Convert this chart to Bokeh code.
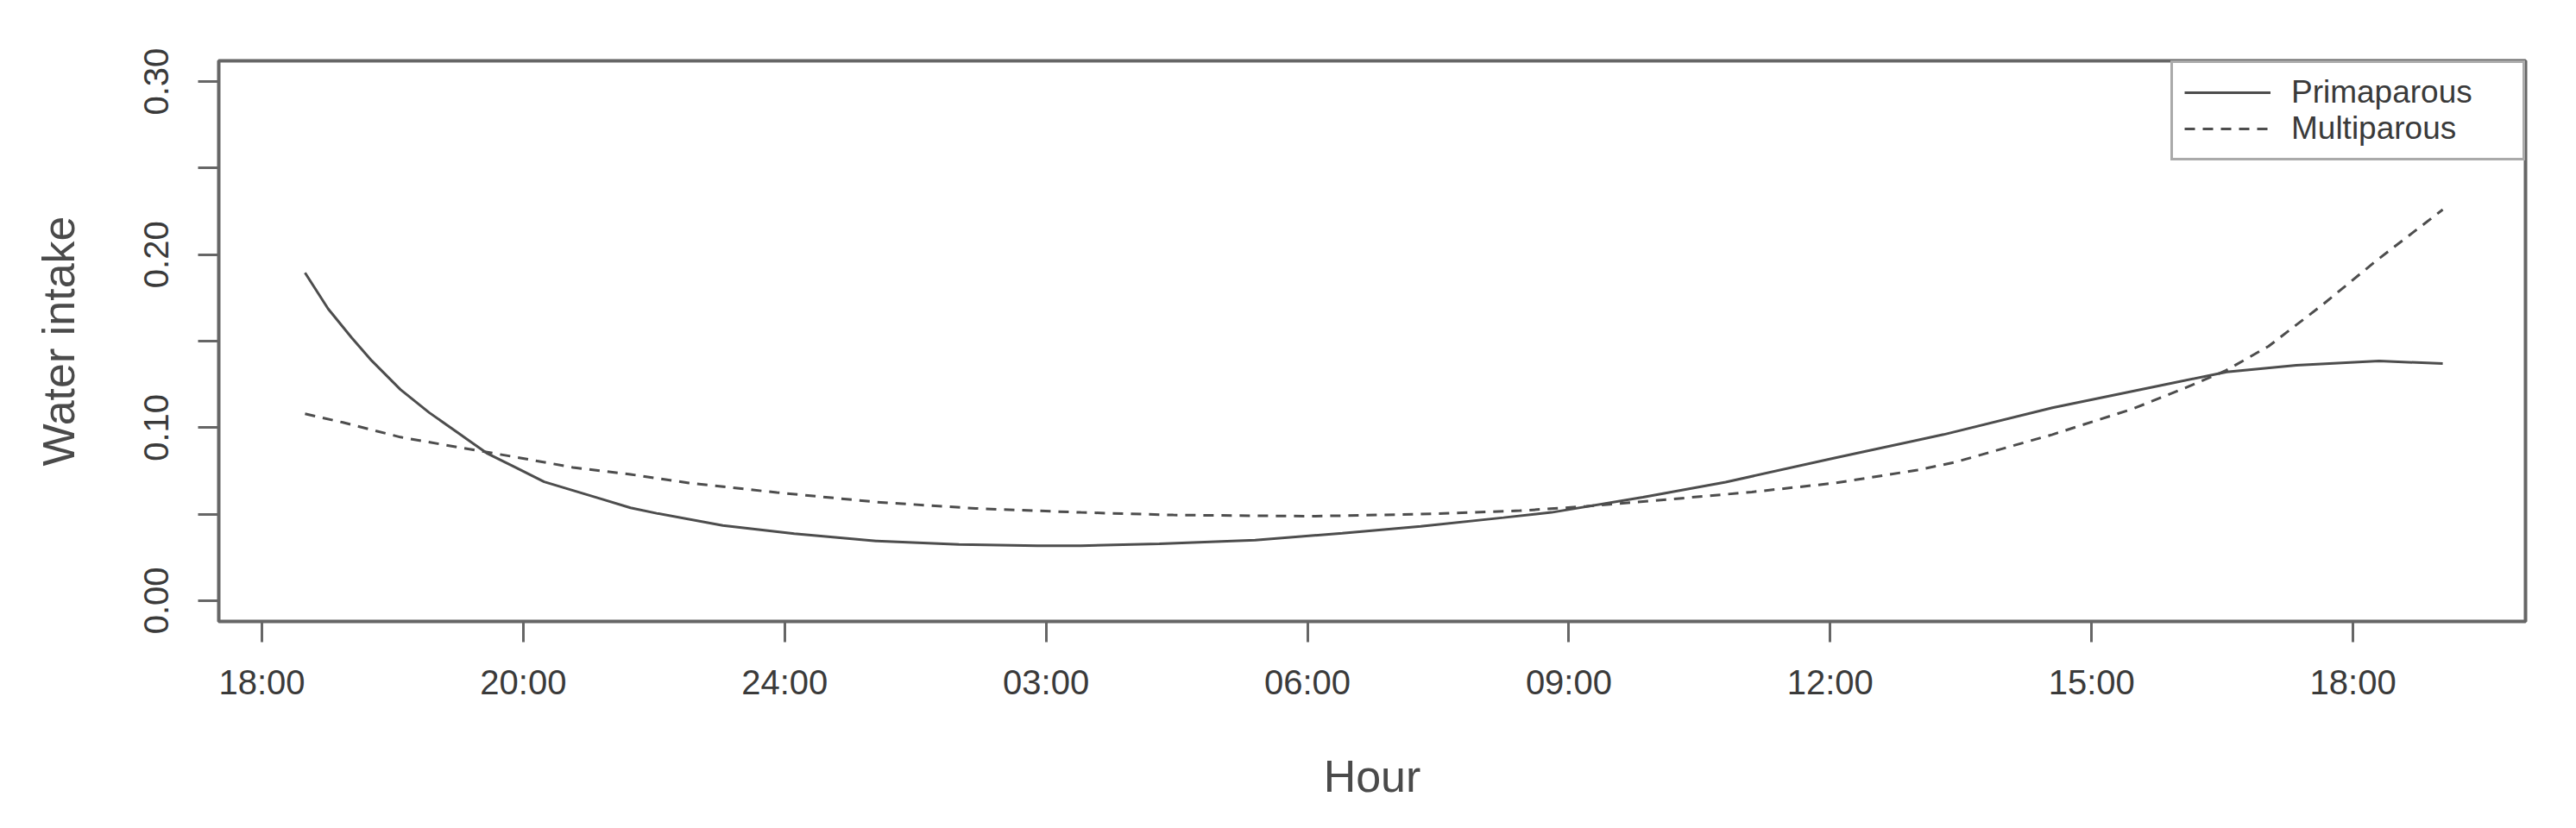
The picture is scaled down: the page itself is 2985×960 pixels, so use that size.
from bokeh.plotting import figure
from bokeh.models import FixedTicker, Range1d, Legend, LegendItem
from bokeh.embed import file_html
from bokeh.resources import INLINE

# ---- data (hours after the first 18:00 tick) ----
prim_hours = [0.495, 0.76, 1.03, 1.26, 1.59, 1.92, 2.25, 2.58, 2.91, 3.24, 3.57, 3.9,
              4.23, 4.53, 5.29, 6.11, 7.05, 8.0, 8.9, 9.4, 10.3, 11.4, 12.4, 13.3,
              14.25, 14.8, 15.85, 16.8, 18.05, 19.3, 20.55, 21.8, 22.55, 23.35, 24.3, 25.03]
prim_vals = [0.1895, 0.1687, 0.152, 0.1387, 0.122, 0.1087, 0.097, 0.0853, 0.077, 0.0687,
             0.0637, 0.0587, 0.0537, 0.0505, 0.0435, 0.0387, 0.0345, 0.0325, 0.0318,
             0.0318, 0.0328, 0.035, 0.039, 0.043, 0.048, 0.051, 0.0598, 0.0685, 0.0825,
             0.096, 0.1115, 0.1245, 0.1322, 0.136, 0.1385, 0.137]

multi_hours = [0.495, 0.93, 1.59, 2.25, 2.91, 3.57, 4.23, 4.9, 5.91, 7.05, 8.19, 9.4,
               10.46, 12.04, 13.3, 14.44, 15.2, 16.14, 17.1, 18.06, 19.0, 19.43, 20.55,
               21.48, 22.1, 22.54, 23.03, 23.65, 24.28, 25.03]
multi_vals = [0.108, 0.103, 0.0945, 0.0887, 0.083, 0.077, 0.073, 0.068, 0.0625, 0.057,
              0.0533, 0.051, 0.0495, 0.0488, 0.0500, 0.052, 0.0545, 0.0585, 0.0628,
              0.068, 0.0755, 0.080, 0.096, 0.111, 0.1235, 0.133, 0.147, 0.171, 0.197, 0.226]

x_ticks = [0, 3, 6, 9, 12, 15, 18, 21, 24]
x_tick_labels = ["18:00", "20:00", "24:00", "03:00", "06:00", "09:00", "12:00", "15:00", "18:00"]
y_ticks = [0.0, 0.1, 0.2, 0.3]
y_minor_ticks = [0.05, 0.15, 0.25]
y_tick_labels = ["0.00", "0.10", "0.20", "0.30"]

FONT = "Liberation Sans"
LINE_COLOR = "#4d4d4d"
AXIS_COLOR = "#666666"
TEXT_COLOR = "#3a3a3a"

p = figure(frame_width=2673, frame_height=650,
           x_range=Range1d(-0.495, 25.98), y_range=Range1d(-0.012, 0.312),
           output_backend="svg", toolbar_location=None,
           min_border_left=253, min_border_right=43, min_border_top=70, min_border_bottom=224,
           background_fill_color="white", border_fill_color="white")

p.grid.visible = False
p.outline_line_color = AXIS_COLOR
p.outline_line_width = 4

r1 = p.line(prim_hours, prim_vals, line_color=LINE_COLOR, line_width=3)
r2 = p.line(multi_hours, multi_vals, line_color=LINE_COLOR, line_width=3, line_dash="12 9")

for ax in (p.xaxis[0], p.yaxis[0]):
    ax.axis_line_color = None
    ax.major_tick_out = 24
    ax.major_tick_in = 0
    ax.major_tick_line_color = AXIS_COLOR
    ax.major_tick_line_width = 3
    ax.minor_tick_out = 24
    ax.minor_tick_in = 0
    ax.minor_tick_line_color = AXIS_COLOR
    ax.minor_tick_line_width = 3
    ax.major_label_text_font = FONT
    ax.major_label_text_font_size = "40px"
    ax.major_label_text_color = TEXT_COLOR
    ax.axis_label_text_font = FONT
    ax.axis_label_text_font_size = "52px"
    ax.axis_label_text_font_style = "normal"
    ax.axis_label_text_color = "#4a4a4a"

p.xaxis[0].ticker = FixedTicker(ticks=x_ticks, minor_ticks=[])
p.xaxis[0].major_label_overrides = {t: l for t, l in zip(x_ticks, x_tick_labels)}
p.xaxis[0].major_label_standoff = 24
p.xaxis[0].axis_label = "Hour"
p.xaxis[0].axis_label_standoff = 55

p.yaxis[0].ticker = FixedTicker(ticks=y_ticks, minor_ticks=y_minor_ticks)
p.yaxis[0].major_label_overrides = {t: l for t, l in zip(y_ticks, y_tick_labels)}
p.yaxis[0].major_label_orientation = "vertical"
p.yaxis[0].major_label_standoff = 34
p.yaxis[0].axis_label = "Water intake"
p.yaxis[0].axis_label_standoff = 68

legend = Legend(items=[LegendItem(label="Primaparous", renderers=[r1]),
                       LegendItem(label="Multiparous", renderers=[r2])],
                location="top_right", margin=0, padding=13, spacing=0,
                glyph_width=100, glyph_height=38, label_height=38, label_standoff=24,
                label_width=255,
                label_text_font=FONT, label_text_font_size="37px", label_text_color=TEXT_COLOR,
                border_line_color="#555555", border_line_width=3,
                background_fill_color="white", background_fill_alpha=1.0)
p.add_layout(legend)

open("out.html", "w").write(file_html(p, INLINE))
